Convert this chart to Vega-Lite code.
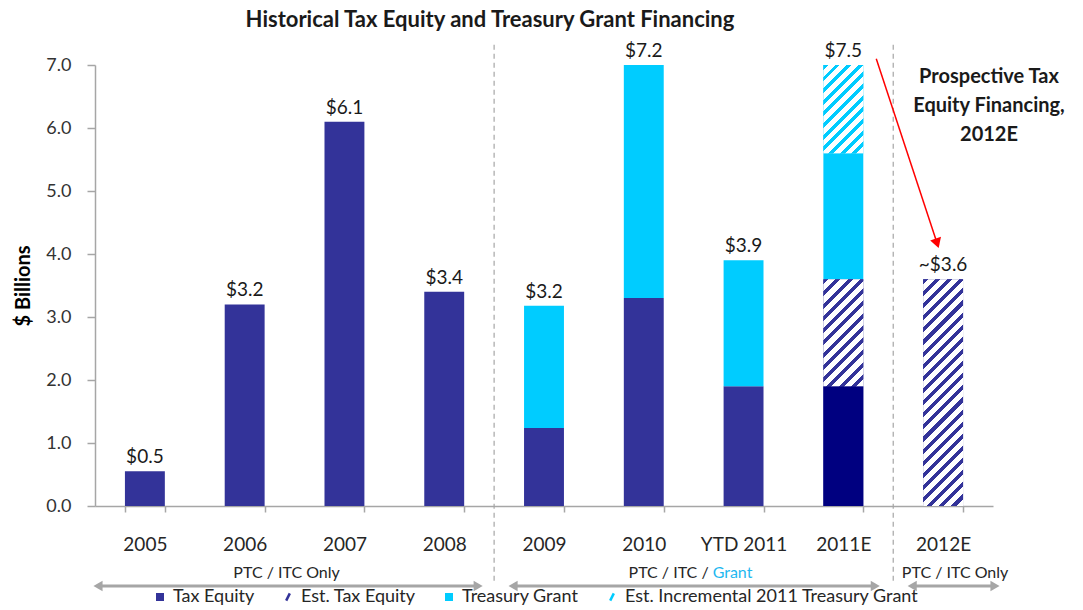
{
  "$schema": "https://vega.github.io/schema/vega-lite/v6.json",
  "width": 898,
  "height": 441,
  "autosize": {"type": "none"},
  "padding": {"left": 95, "top": 65, "right": 90, "bottom": 104},
  "background": "white",
  "title": {"text": "Historical Tax Equity and Treasury Grant Financing", "fontSize": 22, "fontWeight": "bold", "color": "#1a1a1a", "offset": 10, "dx": -54, "anchor": "middle"},
  "config": {"view": {"stroke": null}, "font": "Lato"},
  "datasets": {
    "bars": [
      {"year": "2005", "series": "Tax Equity", "value": 0.55, "order": 1},
      {"year": "2006", "series": "Tax Equity", "value": 3.2, "order": 1},
      {"year": "2007", "series": "Tax Equity", "value": 6.1, "order": 1},
      {"year": "2008", "series": "Tax Equity", "value": 3.4, "order": 1},
      {"year": "2009", "series": "Tax Equity", "value": 1.24, "order": 1},
      {"year": "2009", "series": "Treasury Grant", "value": 1.94, "order": 3},
      {"year": "2010", "series": "Tax Equity", "value": 3.3, "order": 1},
      {"year": "2010", "series": "Treasury Grant", "value": 3.9, "order": 3},
      {"year": "YTD 2011", "series": "Tax Equity", "value": 1.9, "order": 1},
      {"year": "YTD 2011", "series": "Treasury Grant", "value": 2.0, "order": 3},
      {"year": "2011E", "series": "Tax Equity", "value": 1.9, "order": 1},
      {"year": "2011E", "series": "Est. Tax Equity", "value": 1.7, "order": 2},
      {"year": "2011E", "series": "Treasury Grant", "value": 2.0, "order": 3},
      {"year": "2011E", "series": "Est. Incremental 2011 Treasury Grant", "value": 1.9, "order": 4},
      {"year": "2012E", "series": "Est. Tax Equity", "value": 3.6, "order": 2}
    ],
    "labels": [
      {"year": "2005", "total": 0.55, "label": "$0.5"},
      {"year": "2006", "total": 3.2, "label": "$3.2"},
      {"year": "2007", "total": 6.1, "label": "$6.1"},
      {"year": "2008", "total": 3.4, "label": "$3.4"},
      {"year": "2009", "total": 3.18, "label": "$3.2"},
      {"year": "2010", "total": 7.2, "label": "$7.2"},
      {"year": "YTD 2011", "total": 3.9, "label": "$3.9"},
      {"year": "2011E", "total": 7.5, "label": "$7.5"},
      {"year": "2012E", "total": 3.6, "label": "~$3.6"}
    ],
    "annot": [
      {"kind": "divider", "ax": 4, "ay": 7.32, "ay2": -1.2},
      {"kind": "divider", "ax": 8, "ay": 7.32, "ay2": -1.2},
      {"kind": "span", "ax": 0.03, "ax2": 3.84, "ay": -1.27},
      {"kind": "span", "ax": 4.19, "ax2": 7.82, "ay": -1.27},
      {"kind": "span", "ax": 8.19, "ax2": 9.02, "ay": -1.27},
      {"kind": "regime", "ax": 1.92, "ay": -1.06, "text": "PTC / ITC Only"},
      {"kind": "regime", "ax": 8.62, "ay": -1.06, "text": "PTC / ITC Only"},
      {"kind": "regimeA", "ax": 6.15, "ay": -1.06, "text": "PTC / ITC /"},
      {"kind": "regimeB", "ax": 6.15, "ay": -1.06, "text": "Grant"},
      {"kind": "pointer", "ax": 7.83, "ay": 7.10, "ax2": 8.44, "ay2": 4.17},
      {"kind": "note", "ax": 8.96, "ay": 6.97, "text": "Prospective Tax\nEquity Financing,\n2012E"}
    ]
  },
  "resolve": {"scale": {"x": "independent", "y": "independent"}},
  "layer": [
    {
      "encoding": {
        "x": {"field": "year", "type": "nominal",
          "scale": {"domain": ["2005", "2006", "2007", "2008", "2009", "2010", "YTD 2011", "2011E", "2012E"], "paddingInner": 0.6, "paddingOuter": 0.3},
          "axis": {"title": null, "labelAngle": 0, "labelFontSize": 19, "labelColor": "#262626", "labelPadding": 23, "tickBand": "extent", "tickSize": 6, "tickColor": "#A6A6A6", "tickWidth": 1.5, "domainColor": "#A6A6A6", "domainWidth": 1.5, "grid": false}},
        "y": {"field": "v0", "type": "quantitative",
          "scale": {"domain": [0, 7], "nice": false, "clamp": true},
          "axis": {"title": "$ Billions", "titleFontSize": 20, "titleFontWeight": "bold", "titleColor": "#000000", "titlePadding": 12, "values": [0, 1, 2, 3, 4, 5, 6, 7], "format": ".1f", "labelFontSize": 18, "labelColor": "#333333", "labelPadding": 16, "tickSize": 8, "tickColor": "#A6A6A6", "tickWidth": 1.5, "domainColor": "#A6A6A6", "domainWidth": 1.5, "grid": false}}
      },
      "layer": [
        {
          "data": {"name": "bars"},
          "transform": [{"stack": "value", "groupby": ["year"], "sort": [{"field": "order", "order": "ascending"}], "as": ["v0", "v1"]}],
          "mark": {"type": "bar"},
          "encoding": {
            "y2": {"field": "v1"},
            "color": {"field": "series", "type": "nominal",
              "scale": {"domain": ["Tax Equity", "Est. Tax Equity", "Treasury Grant", "Est. Incremental 2011 Treasury Grant"], "range": ["#333399", "#333399", "#00CCFF", "#00CCFF"]},
              "legend": {"orient": "none", "legendX": 56, "legendY": 523, "direction": "horizontal", "columns": 4, "title": null, "labelFontSize": 18, "labelColor": "#262626", "labelLimit": 500, "symbolSize": 64, "columnPadding": 24, "labelOffset": 4, "padding": 0,
                "encode": {"symbols": {"update": {
                  "shape": {"signal": "indexof(datum.value, 'Est.') === 0 ? 'M-0.45,0.9L0.45,-0.9' : 'square'"},
                  "fill": {"signal": "indexof(datum.value, 'Est.') === 0 ? 'transparent' : (indexof(datum.value, 'Treasury') >= 0 ? '#00CCFF' : '#333399')"},
                  "stroke": {"signal": "indexof(datum.value, 'Est.') === 0 ? (indexof(datum.value, 'Treasury') >= 0 ? '#00CCFF' : '#333399') : 'transparent'"},
                  "strokeWidth": {"value": 2.5}
                }}}}
            }
          }
        },
        {
          "data": {"name": "bars"},
          "transform": [{"stack": "value", "groupby": ["year"], "sort": [{"field": "order", "order": "ascending"}], "as": ["v0", "v1"]}, {"filter": "datum.year === '2011E' && datum.series === 'Tax Equity'"}],
          "mark": {"type": "bar", "color": "#000080"},
          "encoding": {"y2": {"field": "v1"}}
        },
        {
          "data": {"name": "bars"},
          "transform": [{"stack": "value", "groupby": ["year"], "sort": [{"field": "order", "order": "ascending"}], "as": ["v0", "v1"]}, {"filter": "datum.year === '2011E' && datum.series === 'Est. Tax Equity'"}],
          "mark": {"type": "bar", "color": {"gradient": "linear", "x1": 0, "y1": 0, "x2": 0.449, "y2": 1.205, "stops": [
            {"offset": 0, "color": "#333399"}, {"offset": 0.035, "color": "#333399"}, {"offset": 0.035, "color": "#FFFFFF"}, {"offset": 0.0833, "color": "#FFFFFF"},
            {"offset": 0.0833, "color": "#333399"}, {"offset": 0.1183, "color": "#333399"}, {"offset": 0.1183, "color": "#FFFFFF"}, {"offset": 0.1667, "color": "#FFFFFF"},
            {"offset": 0.1667, "color": "#333399"}, {"offset": 0.2017, "color": "#333399"}, {"offset": 0.2017, "color": "#FFFFFF"}, {"offset": 0.25, "color": "#FFFFFF"},
            {"offset": 0.25, "color": "#333399"}, {"offset": 0.285, "color": "#333399"}, {"offset": 0.285, "color": "#FFFFFF"}, {"offset": 0.3333, "color": "#FFFFFF"},
            {"offset": 0.3333, "color": "#333399"}, {"offset": 0.3683, "color": "#333399"}, {"offset": 0.3683, "color": "#FFFFFF"}, {"offset": 0.4167, "color": "#FFFFFF"},
            {"offset": 0.4167, "color": "#333399"}, {"offset": 0.4517, "color": "#333399"}, {"offset": 0.4517, "color": "#FFFFFF"}, {"offset": 0.5, "color": "#FFFFFF"},
            {"offset": 0.5, "color": "#333399"}, {"offset": 0.535, "color": "#333399"}, {"offset": 0.535, "color": "#FFFFFF"}, {"offset": 0.5833, "color": "#FFFFFF"},
            {"offset": 0.5833, "color": "#333399"}, {"offset": 0.6183, "color": "#333399"}, {"offset": 0.6183, "color": "#FFFFFF"}, {"offset": 0.6667, "color": "#FFFFFF"},
            {"offset": 0.6667, "color": "#333399"}, {"offset": 0.7017, "color": "#333399"}, {"offset": 0.7017, "color": "#FFFFFF"}, {"offset": 0.75, "color": "#FFFFFF"},
            {"offset": 0.75, "color": "#333399"}, {"offset": 0.785, "color": "#333399"}, {"offset": 0.785, "color": "#FFFFFF"}, {"offset": 0.8333, "color": "#FFFFFF"},
            {"offset": 0.8333, "color": "#333399"}, {"offset": 0.8683, "color": "#333399"}, {"offset": 0.8683, "color": "#FFFFFF"}, {"offset": 0.9167, "color": "#FFFFFF"},
            {"offset": 0.9167, "color": "#333399"}, {"offset": 0.9517, "color": "#333399"}, {"offset": 0.9517, "color": "#FFFFFF"}, {"offset": 1, "color": "#FFFFFF"}
          ]}},
          "encoding": {"y2": {"field": "v1"}}
        },
        {
          "data": {"name": "bars"},
          "transform": [{"stack": "value", "groupby": ["year"], "sort": [{"field": "order", "order": "ascending"}], "as": ["v0", "v1"]}, {"filter": "datum.year === '2012E' && datum.series === 'Est. Tax Equity'"}],
          "mark": {"type": "bar", "color": {"gradient": "linear", "x1": 0, "y1": 0, "x2": 0.2007, "y2": 1.1406, "stops": [
            {"offset": 0, "color": "#333399"}, {"offset": 0.0191, "color": "#333399"}, {"offset": 0.0191, "color": "#FFFFFF"}, {"offset": 0.04545, "color": "#FFFFFF"},
            {"offset": 0.04545, "color": "#333399"}, {"offset": 0.06455, "color": "#333399"}, {"offset": 0.06455, "color": "#FFFFFF"}, {"offset": 0.09091, "color": "#FFFFFF"},
            {"offset": 0.09091, "color": "#333399"}, {"offset": 0.11, "color": "#333399"}, {"offset": 0.11, "color": "#FFFFFF"}, {"offset": 0.13636, "color": "#FFFFFF"},
            {"offset": 0.13636, "color": "#333399"}, {"offset": 0.15545, "color": "#333399"}, {"offset": 0.15545, "color": "#FFFFFF"}, {"offset": 0.18182, "color": "#FFFFFF"},
            {"offset": 0.18182, "color": "#333399"}, {"offset": 0.20091, "color": "#333399"}, {"offset": 0.20091, "color": "#FFFFFF"}, {"offset": 0.22727, "color": "#FFFFFF"},
            {"offset": 0.22727, "color": "#333399"}, {"offset": 0.24636, "color": "#333399"}, {"offset": 0.24636, "color": "#FFFFFF"}, {"offset": 0.27273, "color": "#FFFFFF"},
            {"offset": 0.27273, "color": "#333399"}, {"offset": 0.29182, "color": "#333399"}, {"offset": 0.29182, "color": "#FFFFFF"}, {"offset": 0.31818, "color": "#FFFFFF"},
            {"offset": 0.31818, "color": "#333399"}, {"offset": 0.33727, "color": "#333399"}, {"offset": 0.33727, "color": "#FFFFFF"}, {"offset": 0.36364, "color": "#FFFFFF"},
            {"offset": 0.36364, "color": "#333399"}, {"offset": 0.38273, "color": "#333399"}, {"offset": 0.38273, "color": "#FFFFFF"}, {"offset": 0.40909, "color": "#FFFFFF"},
            {"offset": 0.40909, "color": "#333399"}, {"offset": 0.42818, "color": "#333399"}, {"offset": 0.42818, "color": "#FFFFFF"}, {"offset": 0.45455, "color": "#FFFFFF"},
            {"offset": 0.45455, "color": "#333399"}, {"offset": 0.47364, "color": "#333399"}, {"offset": 0.47364, "color": "#FFFFFF"}, {"offset": 0.5, "color": "#FFFFFF"},
            {"offset": 0.5, "color": "#333399"}, {"offset": 0.51909, "color": "#333399"}, {"offset": 0.51909, "color": "#FFFFFF"}, {"offset": 0.54545, "color": "#FFFFFF"},
            {"offset": 0.54545, "color": "#333399"}, {"offset": 0.56455, "color": "#333399"}, {"offset": 0.56455, "color": "#FFFFFF"}, {"offset": 0.59091, "color": "#FFFFFF"},
            {"offset": 0.59091, "color": "#333399"}, {"offset": 0.61, "color": "#333399"}, {"offset": 0.61, "color": "#FFFFFF"}, {"offset": 0.63636, "color": "#FFFFFF"},
            {"offset": 0.63636, "color": "#333399"}, {"offset": 0.65545, "color": "#333399"}, {"offset": 0.65545, "color": "#FFFFFF"}, {"offset": 0.68182, "color": "#FFFFFF"},
            {"offset": 0.68182, "color": "#333399"}, {"offset": 0.70091, "color": "#333399"}, {"offset": 0.70091, "color": "#FFFFFF"}, {"offset": 0.72727, "color": "#FFFFFF"},
            {"offset": 0.72727, "color": "#333399"}, {"offset": 0.74636, "color": "#333399"}, {"offset": 0.74636, "color": "#FFFFFF"}, {"offset": 0.77273, "color": "#FFFFFF"},
            {"offset": 0.77273, "color": "#333399"}, {"offset": 0.79182, "color": "#333399"}, {"offset": 0.79182, "color": "#FFFFFF"}, {"offset": 0.81818, "color": "#FFFFFF"},
            {"offset": 0.81818, "color": "#333399"}, {"offset": 0.83727, "color": "#333399"}, {"offset": 0.83727, "color": "#FFFFFF"}, {"offset": 0.86364, "color": "#FFFFFF"},
            {"offset": 0.86364, "color": "#333399"}, {"offset": 0.88273, "color": "#333399"}, {"offset": 0.88273, "color": "#FFFFFF"}, {"offset": 0.90909, "color": "#FFFFFF"},
            {"offset": 0.90909, "color": "#333399"}, {"offset": 0.92818, "color": "#333399"}, {"offset": 0.92818, "color": "#FFFFFF"}, {"offset": 0.95455, "color": "#FFFFFF"},
            {"offset": 0.95455, "color": "#333399"}, {"offset": 0.97364, "color": "#333399"}, {"offset": 0.97364, "color": "#FFFFFF"}, {"offset": 1, "color": "#FFFFFF"}
          ]}},
          "encoding": {"y2": {"field": "v1"}}
        },
        {
          "data": {"name": "bars"},
          "transform": [{"stack": "value", "groupby": ["year"], "sort": [{"field": "order", "order": "ascending"}], "as": ["v0", "v1"]}, {"filter": "datum.year === '2011E' && datum.series === 'Est. Incremental 2011 Treasury Grant'"}],
          "mark": {"type": "bar", "color": {"gradient": "linear", "x1": 0, "y1": 0, "x2": 0.5454, "y2": 1.2057, "stops": [
            {"offset": 0, "color": "#00CCFF"}, {"offset": 0.03818, "color": "#00CCFF"}, {"offset": 0.03818, "color": "#FFFFFF"}, {"offset": 0.09091, "color": "#FFFFFF"},
            {"offset": 0.09091, "color": "#00CCFF"}, {"offset": 0.12909, "color": "#00CCFF"}, {"offset": 0.12909, "color": "#FFFFFF"}, {"offset": 0.18182, "color": "#FFFFFF"},
            {"offset": 0.18182, "color": "#00CCFF"}, {"offset": 0.22, "color": "#00CCFF"}, {"offset": 0.22, "color": "#FFFFFF"}, {"offset": 0.27273, "color": "#FFFFFF"},
            {"offset": 0.27273, "color": "#00CCFF"}, {"offset": 0.31091, "color": "#00CCFF"}, {"offset": 0.31091, "color": "#FFFFFF"}, {"offset": 0.36364, "color": "#FFFFFF"},
            {"offset": 0.36364, "color": "#00CCFF"}, {"offset": 0.40182, "color": "#00CCFF"}, {"offset": 0.40182, "color": "#FFFFFF"}, {"offset": 0.45455, "color": "#FFFFFF"},
            {"offset": 0.45455, "color": "#00CCFF"}, {"offset": 0.49273, "color": "#00CCFF"}, {"offset": 0.49273, "color": "#FFFFFF"}, {"offset": 0.54545, "color": "#FFFFFF"},
            {"offset": 0.54545, "color": "#00CCFF"}, {"offset": 0.58364, "color": "#00CCFF"}, {"offset": 0.58364, "color": "#FFFFFF"}, {"offset": 0.63636, "color": "#FFFFFF"},
            {"offset": 0.63636, "color": "#00CCFF"}, {"offset": 0.67455, "color": "#00CCFF"}, {"offset": 0.67455, "color": "#FFFFFF"}, {"offset": 0.72727, "color": "#FFFFFF"},
            {"offset": 0.72727, "color": "#00CCFF"}, {"offset": 0.76545, "color": "#00CCFF"}, {"offset": 0.76545, "color": "#FFFFFF"}, {"offset": 0.81818, "color": "#FFFFFF"},
            {"offset": 0.81818, "color": "#00CCFF"}, {"offset": 0.85636, "color": "#00CCFF"}, {"offset": 0.85636, "color": "#FFFFFF"}, {"offset": 0.90909, "color": "#FFFFFF"},
            {"offset": 0.90909, "color": "#00CCFF"}, {"offset": 0.94727, "color": "#00CCFF"}, {"offset": 0.94727, "color": "#FFFFFF"}, {"offset": 1, "color": "#FFFFFF"}
          ]}},
          "encoding": {"y2": {"field": "v1"}}
        },
        {
          "data": {"name": "labels"},
          "mark": {"type": "text", "baseline": "bottom", "dy": -4, "fontSize": 19, "color": "#1a1a1a"},
          "encoding": {"y": {"field": "total", "type": "quantitative"}, "text": {"field": "label"}}
        }
      ]
    },
    {
      "data": {"name": "annot"},
      "encoding": {
        "x": {"field": "ax", "type": "quantitative", "scale": {"domain": [0, 9], "nice": false, "zero": false}, "axis": null},
        "y": {"field": "ay", "type": "quantitative", "scale": {"domain": [0, 7], "nice": false, "zero": false}, "axis": null}
      },
      "layer": [
        {
          "transform": [{"filter": "datum.kind === 'divider'"}],
          "mark": {"type": "rule", "color": "#A6A6A6", "strokeWidth": 1.2, "strokeDash": [5, 4]},
          "encoding": {"y2": {"field": "ay2"}}
        },
        {
          "transform": [{"filter": "datum.kind === 'span'"}],
          "mark": {"type": "rule", "color": "#A6A6A6", "strokeWidth": 3},
          "encoding": {"x2": {"field": "ax2"}}
        },
        {
          "transform": [{"filter": "datum.kind === 'span'"}],
          "mark": {"type": "point", "shape": "triangle-left", "filled": true, "size": 110, "color": "#A6A6A6", "opacity": 1},
          "encoding": {}
        },
        {
          "transform": [{"filter": "datum.kind === 'span'"}],
          "mark": {"type": "point", "shape": "triangle-right", "filled": true, "size": 110, "color": "#A6A6A6", "opacity": 1},
          "encoding": {"x": {"field": "ax2", "type": "quantitative", "scale": {"domain": [0, 9], "nice": false, "zero": false}, "axis": null}}
        },
        {
          "transform": [{"filter": "datum.kind === 'regime'"}],
          "mark": {"type": "text", "align": "center", "baseline": "middle", "fontSize": 16, "color": "#262626"},
          "encoding": {"text": {"field": "text"}}
        },
        {
          "transform": [{"filter": "datum.kind === 'regimeA'"}],
          "mark": {"type": "text", "align": "right", "baseline": "middle", "fontSize": 16, "color": "#262626"},
          "encoding": {"text": {"field": "text"}}
        },
        {
          "transform": [{"filter": "datum.kind === 'regimeB'"}],
          "mark": {"type": "text", "align": "left", "baseline": "middle", "dx": 4, "fontSize": 16, "color": "#1FB8F0"},
          "encoding": {"text": {"field": "text"}}
        },
        {
          "transform": [{"filter": "datum.kind === 'pointer'"}],
          "mark": {"type": "rule", "color": "#FF0000", "strokeWidth": 1.5},
          "encoding": {"x2": {"field": "ax2"}, "y2": {"field": "ay2"}}
        },
        {
          "transform": [{"filter": "datum.kind === 'pointer'"}],
          "mark": {"type": "point", "shape": "triangle-down", "filled": true, "size": 130, "color": "#FF0000", "opacity": 1, "angle": 341.7},
          "encoding": {
            "x": {"field": "ax2", "type": "quantitative", "scale": {"domain": [0, 9], "nice": false, "zero": false}, "axis": null},
            "y": {"field": "ay2", "type": "quantitative", "scale": {"domain": [0, 7], "nice": false, "zero": false}, "axis": null}
          }
        },
        {
          "transform": [{"filter": "datum.kind === 'note'"}],
          "mark": {"type": "text", "align": "center", "baseline": "top", "fontSize": 20, "fontWeight": "bold", "lineHeight": 29, "lineBreak": "\n", "color": "#1a1a1a"},
          "encoding": {"text": {"field": "text"}}
        }
      ]
    }
  ]
}
